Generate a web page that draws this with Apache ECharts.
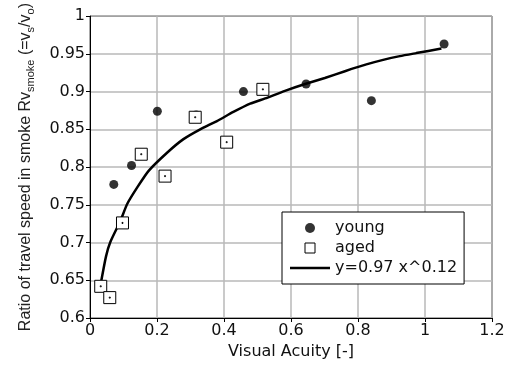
<!DOCTYPE html>
<html>
<head>
<meta charset="utf-8">
<script src="https://cdn.jsdelivr.net/npm/echarts@6/dist/echarts.min.js"></script>
<style>
html,body{margin:0;padding:0;background:#fff;}
#chart{width:509px;height:367px;}
</style>
</head>
<body>
<div id="chart"></div>
<script>
// Data
var youngX = [0.071, 0.124, 0.201, 0.317, 0.458, 0.645, 0.840, 1.057];
var youngY = [0.777, 0.802, 0.874, 0.869, 0.900, 0.910, 0.888, 0.963];
var agedX = [0.032, 0.059, 0.097, 0.153, 0.224, 0.314, 0.408, 0.516];
var agedY = [0.642, 0.627, 0.726, 0.817, 0.788, 0.866, 0.833, 0.903];
var fitX = [0.034, 0.048, 0.061, 0.091, 0.111, 0.141, 0.175, 0.230, 0.279, 0.329, 0.379, 0.428, 0.478, 0.523, 0.582, 0.642, 0.701, 0.761, 0.825, 0.875, 0.925, 0.974, 1.049];
var fitY = [0.650, 0.682, 0.701, 0.729, 0.751, 0.773, 0.795, 0.819, 0.837, 0.850, 0.861, 0.873, 0.884, 0.891, 0.901, 0.910, 0.918, 0.927, 0.936, 0.942, 0.947, 0.951, 0.957];
var seriesNames = ['young', 'aged', 'y=0.97 x^0.12'];
var xTicks = {min: 0, max: 1.2, interval: 0.2};
var yTicks = {min: 0.6, max: 1.0, interval: 0.05};

function pairs(xs, ys) { return xs.map(function (x, i) { return [x, ys[i]]; }); }

var squarePath = 'path://M0,0L12,0L12,12L0,12Z M5.5,5.5L6.5,5.5L6.5,6.5L5.5,6.5Z';
var squareIcon = 'path://M0,0L12,0L12,12L0,12Z';
var linePath = 'path://M0,0L40,0L40,2.5L0,2.5Z';
var tickFont = 'DejaVu Sans';
var chart = echarts.init(document.getElementById('chart'), null, {renderer: 'canvas'});
chart.setOption({
  animation: false,
  backgroundColor: '#fff',
  grid: {left: 90, right: 17, top: 15, bottom: 49, show: true, borderColor: '#000', borderWidth: 1, backgroundColor: 'transparent'},
  xAxis: {
    type: 'value', min: xTicks.min, max: xTicks.max, interval: xTicks.interval,
    name: 'Visual Acuity [-]', nameLocation: 'middle', nameGap: 26,
    nameTextStyle: {fontFamily: tickFont, fontSize: 16, color: '#111'},
    axisLine: {show: true, lineStyle: {color: '#000', width: 1}},
    axisTick: {show: true, length: 4, inside: false, lineStyle: {color: '#000'}},
    axisLabel: {fontFamily: tickFont, fontSize: 16, color: '#111', margin: 5, showMinLabel: true, showMaxLabel: true},
    splitLine: {show: true, lineStyle: {color: '#b8b8b8', width: 1.5}}
  },
  yAxis: {
    type: 'value', min: yTicks.min, max: yTicks.max, interval: yTicks.interval,
    name: '{a|Ratio of travel speed in smoke Rv}{s|smoke}{a| (=v}{s|s}{a|/v}{s|o}{a|)}',
    nameLocation: 'middle', nameGap: 54, nameRotate: 90,
    nameTextStyle: {
      color: '#222',
      rich: {
        a: {fontFamily: 'Liberation Sans', fontSize: 16, lineHeight: 20, color: '#222'},
        s: {fontFamily: 'Liberation Sans', fontSize: 11, lineHeight: 11, verticalAlign: 'bottom', color: '#222'}
      }
    },
    axisLine: {show: true, lineStyle: {color: '#000', width: 1}},
    axisTick: {show: true, length: 4, inside: false, lineStyle: {color: '#000'}},
    axisLabel: {fontFamily: tickFont, fontSize: 16, color: '#111', margin: 5, showMinLabel: true, showMaxLabel: true},
    splitLine: {show: true, lineStyle: {color: '#b8b8b8', width: 1.5}}
  },
  legend: {
    orient: 'vertical', left: 282, top: 212,
    padding: [8, 7, 8, 8], itemGap: 4,
    itemWidth: 40, itemHeight: 10,
    backgroundColor: '#fff', borderColor: '#000', borderWidth: 1,
    textStyle: {fontFamily: tickFont, fontSize: 16, color: '#111'},
    data: [
      {name: seriesNames[0], icon: 'circle'},
      {name: seriesNames[1], icon: squareIcon, itemStyle: {color: '#fff', borderColor: '#000', borderWidth: 1}},
      {name: seriesNames[2], icon: linePath}
    ]
  },
  series: [
    {
      name: seriesNames[2], type: 'line', data: pairs(fitX, fitY), smooth: 0.2,
      symbol: 'none', showSymbol: false, lineStyle: {color: '#000', width: 2.5}, itemStyle: {color: '#000'}, z: 2
    },
    {
      name: seriesNames[0], type: 'scatter', data: pairs(youngX, youngY),
      symbol: 'circle', symbolSize: 9, itemStyle: {color: '#000'}, z: 3
    },
    {
      name: seriesNames[1], type: 'scatter', data: pairs(agedX, agedY),
      symbol: squarePath, symbolSize: 12,
      itemStyle: {color: '#fff', borderColor: '#000', borderWidth: 1, opacity: 1}, z: 4
    }
  ]
});
</script>
</body>
</html>
